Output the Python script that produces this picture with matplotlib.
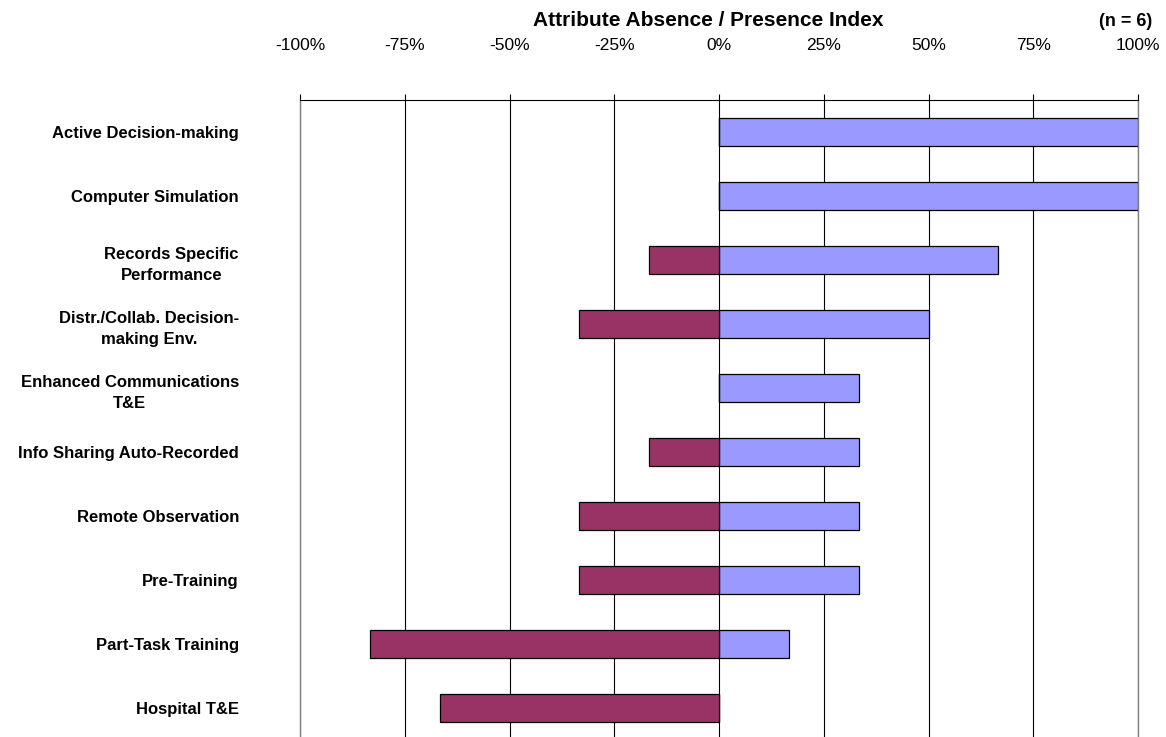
import matplotlib
matplotlib.use("Agg")
import matplotlib.pyplot as plt
from matplotlib.ticker import FixedLocator

plt.rcParams['font.family'] = ['Liberation Sans', 'DejaVu Sans']

categories = [
    "Active Decision-making",
    "Computer Simulation",
    "Records Specific\nPerformance",
    "Distr./Collab. Decision-\nmaking Env.",
    "Enhanced Communications\nT&E",
    "Info Sharing Auto-Recorded",
    "Remote Observation",
    "Pre-Training",
    "Part-Task Training",
    "Hospital T&E",
]
# share of the 6 cases, in percent
presence = [100.0, 100.0, 66.7, 50.0, 33.3, 33.3, 33.3, 33.3, 16.7, 0.0]
absence = [0.0, 0.0, -16.7, -33.3, 0.0, -16.7, -33.3, -33.3, -83.3, -66.7]
tick_values = [-100, -75, -50, -25, 0, 25, 50, 75, 100]
tick_labels = ["-100%", "-75%", "-50%", "-25%", "0%", "25%", "50%", "75%", "100%"]

W, H = 1166, 737
fig = plt.figure(figsize=(W / 100, H / 100), dpi=100)
ax = fig.add_axes([300 / W, 1 - 740 / H, 838 / W, 640 / H])

ypos = list(range(len(categories)))
bar_h = 0.45
ax.barh(ypos, presence, height=bar_h, color="#9999FF", edgecolor="black",
        linewidth=0.9, zorder=3)
ax.barh(ypos, absence, height=bar_h, color="#993366", edgecolor="black",
        linewidth=0.9, zorder=3)

ax.set_xlim(-100, 100)
ax.set_ylim(len(categories) - 0.5, -0.5)

ax.xaxis.set_major_locator(FixedLocator(tick_values))
ax.set_xticklabels(tick_labels, fontsize=12.5, color="black")
ax.xaxis.tick_top()
ax.tick_params(axis="x", direction="out", length=4, width=0.8, pad=30,
               colors="black")
ax.xaxis.grid(True, color="black", linewidth=0.8, zorder=1)

ax.set_yticks(ypos)
ax.set_yticklabels(categories, fontsize=12, fontweight="bold")
for lab in ax.get_yticklabels():
    lab.set_multialignment("center")
    lab.set_linespacing(1.5)
ax.tick_params(axis="y", length=0, pad=44)

for side in ("left", "right"):
    ax.spines[side].set_color("#808080")
    ax.spines[side].set_linewidth(1.0)
ax.spines["top"].set_color("black")
ax.spines["top"].set_linewidth(0.8)
ax.spines["bottom"].set_visible(False)

fig.text(708 / W, 1 - 20 / H, "Attribute Absence / Presence Index",
         ha="center", va="center", fontsize=15, fontweight="bold")
fig.text(1126 / W, 1 - 22 / H, "(n = 6)", ha="center", va="center",
         fontsize=13, fontweight="bold")

fig.savefig("out.png", dpi=100)
